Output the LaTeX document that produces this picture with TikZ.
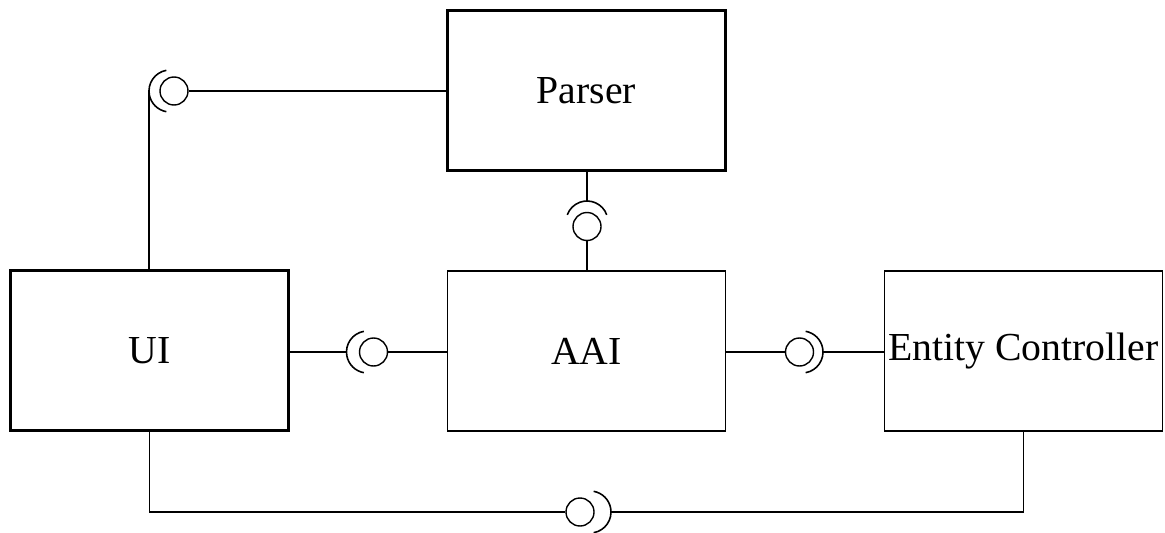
\documentclass[tikz,border=0pt]{standalone}
\usepackage{fontspec}
\setmainfont{Liberation Serif}
\begin{document}
\begin{tikzpicture}[x=0.02cm,y=0.02cm,
        box/.style={draw, minimum width=5.56cm, minimum height=3.2cm, inner sep=0pt, font=\fontsize{22.6}{27}\selectfont},
        heavybox/.style={box, line width=1.7pt},
        lightbox/.style={box, line width=0.9pt},
        ball/.style={draw, circle, line width=0.8pt, minimum size=0.56cm, inner sep=0pt},
        cup/.style={line width=0.9pt},
        wire/.style={line width=0.6pt}]
    \useasboundingbox (0,0) rectangle (1165,532);
    % components
    \node[heavybox] (Parser) at (586.5,441.5) {Parser};
    \node[heavybox] (UI) at (149.5,181.5) {UI};
    \node[lightbox] (AAI) at (586.5,181) {AAI};
    \node[lightbox] (EC) at (1023.5,181) {Entity Controller};
    % provided interfaces
    \node[ball] (b1) at (174,441) {};
    \node[ball] (b2) at (587,305.5) {};
    \node[ball] (b3) at (373.5,180) {};
    \node[ball] (b4) at (799.5,180) {};
    \node[ball] (b5) at (580,20) {};
    % required interfaces
    \draw[cup] (170,441) ++(100:0.42cm) arc (100:260:0.42cm);
    \coordinate (s1) at (149,441);
    \draw[cup] (587,310) ++(20:0.42cm) arc (20:160:0.42cm);
    \coordinate (s2) at (587,331);
    \draw[cup] (367.5,180) ++(100:0.42cm) arc (100:260:0.42cm);
    \coordinate (s3) at (346.5,180);
    \draw[cup] (802,180) ++(-80:0.42cm) arc (-80:80:0.42cm);
    \coordinate (s4) at (823,180);
    \draw[cup] (590,20) ++(-80:0.42cm) arc (-80:80:0.42cm);
    \coordinate (s5) at (611,20);
    % wires
    \draw[wire] (UI.north -| s1) -- (s1);
    \draw[wire] (b1.east) -- (b1 -| Parser.west);
    \draw[wire] (Parser.south -| s2) -- (s2);
    \draw[wire] (b2.south) -- (b2 |- AAI.north);
    \draw[wire] (s3 -| UI.east) -- (s3);
    \draw[wire] (b3.east) -- (b3 -| AAI.west);
    \draw[wire] (b4 -| AAI.east) -- (b4.west);
    \draw[wire] (s4) -- (s4 -| EC.west);
    \draw[wire] (UI.south) |- (b5.west);
    \draw[wire] (s5) -| (EC.south);
\end{tikzpicture}
\end{document}
